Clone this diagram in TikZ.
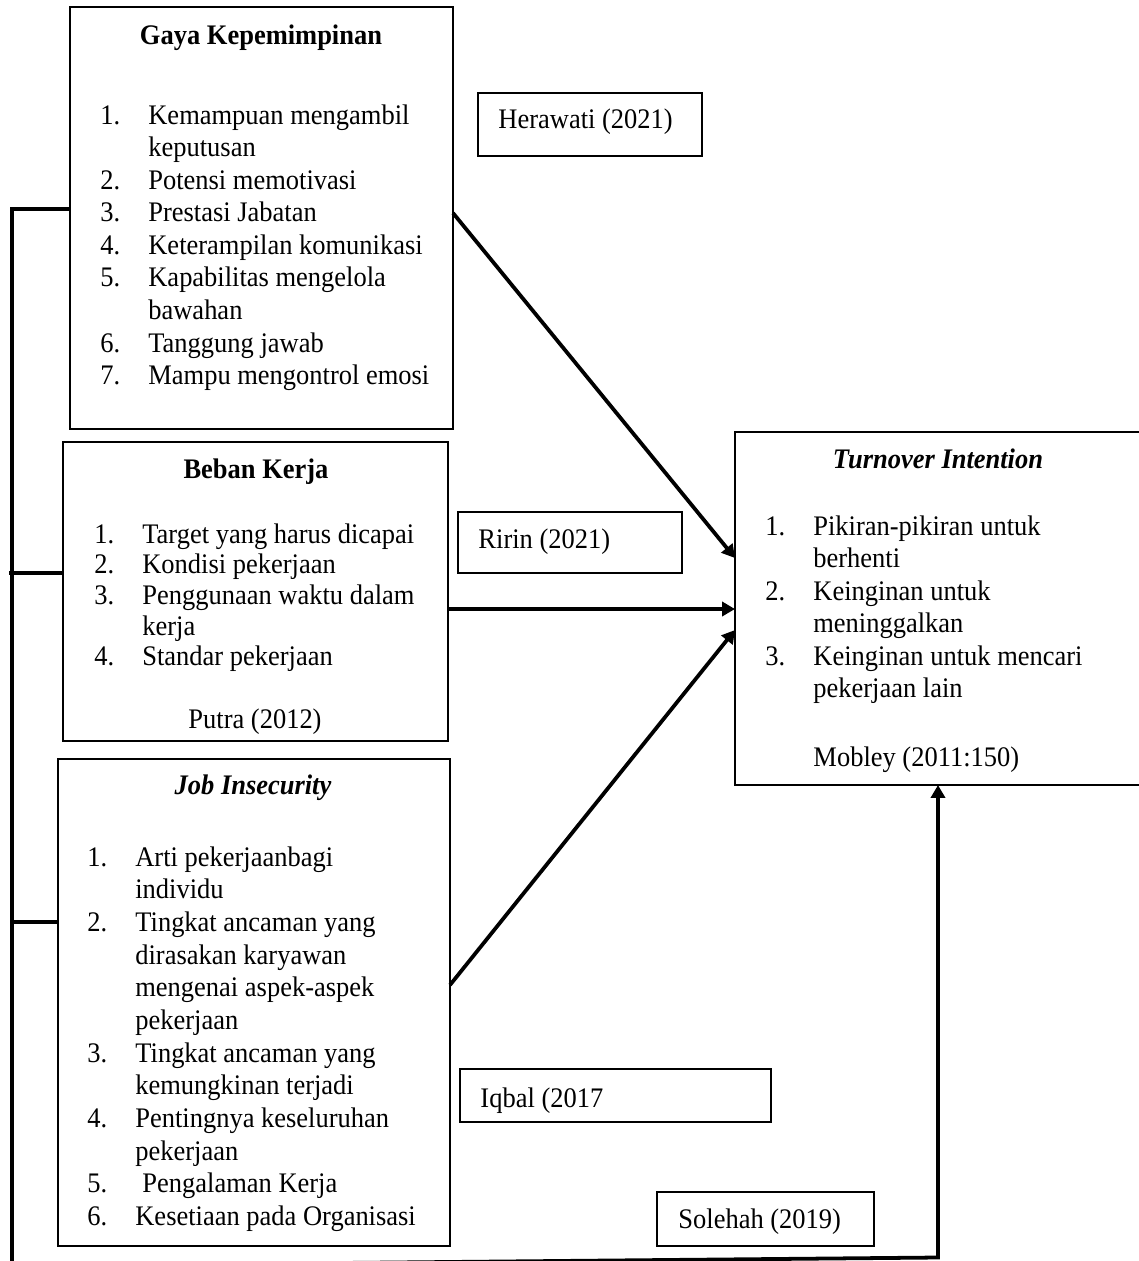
\documentclass[tikz,border=0pt]{standalone}
\usepackage{fontspec}
\setmainfont[FakeStretch=0.935]{Liberation Serif}
\usetikzlibrary{arrows.meta,calc,fit}
\newcommand{\nm}[1]{\makebox[20.3pt][l]{#1}}
\begin{document}
\begin{tikzpicture}[x=0.4237pt,y=-0.4237pt,
  mainbox/.style={draw,line width=1.1pt,inner sep=0pt,outer sep=0pt,rectangle},
  refbox/.style={draw,line width=0.5pt,inner sep=0pt,outer sep=0pt,rectangle},
  txt/.style={inner sep=0pt,anchor=base west,font=\fontsize{12pt}{13.8pt}\selectfont},
  ttl/.style={inner sep=0pt,anchor=base,font=\fontsize{12pt}{13.8pt}\selectfont\bfseries},
  wire/.style={line width=1.6pt},
  arr/.style={line width=1.6pt,-{Triangle[length=5.5pt,width=6pt]}}]
\useasboundingbox (0,0) rectangle (1139,1261);
% main boxes
\node[mainbox,fit={(70,7)(453,429)}] (gaya) {};
\node[mainbox,fit={(63,442)(448,741)}] (beban) {};
\node[mainbox,fit={(58,759)(450,1246)}] (job) {};
\node[mainbox,fit={(735,432)(1141,785)}] (turn) {};
% reference boxes
\node[refbox,fit={(478,93)(702,156)}] (hera) {};
\node[refbox,fit={(458,512)(682,573)}] (ririn) {};
\node[refbox,fit={(460,1069)(771,1122)}] (iqbal) {};
\node[refbox,fit={(657,1192)(874,1246)}] (soleh) {};
\node[txt] (heraT) at (498,128) {Herawati (2021)};
\node[txt] (ririnT) at (478,548) {Ririn (2021)};
\node[txt] (iqbalT) at (480,1107) {Iqbal (2017};
\node[txt] (solehT) at (678,1228) {Solehah (2019)};
% titles
\node[ttl] (gayaT) at (261,44) {Gaya Kepemimpinan};
\node[ttl] (bebanT) at (256,478) {Beban Kerja};
\node[ttl] (jobT) at (253,794) {\itshape Job Insecurity};
\node[ttl] (turnT) at (938,468) {\itshape Turnover Intention};
% lists
\node[txt] (gayaL) at (100,124) {\fontsize{12pt}{13.81pt}\selectfont
\begin{tabular}[t]{@{}l@{}}
\nm{1.}Kemampuan mengambil\\
\nm{}keputusan\\
\nm{2.}Potensi memotivasi\\
\nm{3.}Prestasi Jabatan\\
\nm{4.}Keterampilan komunikasi\\
\nm{5.}Kapabilitas mengelola\\
\nm{}bawahan\\
\nm{6.}Tanggung jawab\\
\nm{7.}Mampu mengontrol emosi
\end{tabular}};
\node[txt] (bebanL) at (94,543) {\fontsize{12pt}{13pt}\selectfont
\begin{tabular}[t]{@{}l@{}}
\nm{1.}Target yang harus dicapai\\
\nm{2.}Kondisi pekerjaan\\
\nm{3.}Penggunaan waktu dalam\\
\nm{}kerja\\
\nm{4.}Standar pekerjaan
\end{tabular}};
\node[ttl,font=\fontsize{12pt}{13.8pt}\selectfont] (putra) at (255,728) {Putra (2012)};
\node[txt] (jobL) at (87,866) {\fontsize{12pt}{13.85pt}\selectfont
\begin{tabular}[t]{@{}l@{}}
\nm{1.}Arti pekerjaanbagi\\
\nm{}individu\\
\nm{2.}Tingkat ancaman yang\\
\nm{}dirasakan karyawan\\
\nm{}mengenai aspek-aspek\\
\nm{}pekerjaan\\
\nm{3.}Tingkat ancaman yang\\
\nm{}kemungkinan terjadi\\
\nm{4.}Pentingnya keseluruhan\\
\nm{}pekerjaan\\
\nm{5.}\hspace{3pt}Pengalaman Kerja\\
\nm{6.}Kesetiaan pada Organisasi
\end{tabular}};
\node[txt] (turnL) at (765,535) {\fontsize{12pt}{13.8pt}\selectfont
\begin{tabular}[t]{@{}l@{}}
\nm{1.}Pikiran-pikiran untuk\\
\nm{}berhenti\\
\nm{2.}Keinginan untuk\\
\nm{}meninggalkan\\
\nm{3.}Keinginan untuk mencari\\
\nm{}pekerjaan lain
\end{tabular}};
\node[txt] (mobley) at (813,766) {Mobley (2011:150)};
% bus on the left
\coordinate (busTop) at (12,207);
\coordinate (busBot) at (12,1266);
\coordinate (bend) at (938,1257.5);
\coordinate (tickA) at (12,209);
\coordinate (tickB) at (9,573);
\coordinate (tickC) at (12,922);
\draw[wire] (busTop) -- (busBot);
\draw[wire] (tickA) -- ($(gaya.north west)+(0,202)$);
\draw[wire] (tickB) -- ($(beban.north west)+(0,131)$);
\draw[wire] (tickC) -- ($(job.north west)+(0,163)$);
% arrows
\draw[arr] ($(gaya.north east)+(0,206)$) -- ($(turn.north west)+(0,126)$);
\draw[arr] ($(beban.north east)+(0,167)$) -- ($(turn.north west)+(0,177)$);
\draw[arr] ($(job.north east)+(0,226)$) -- ($(turn.north west)+(0,198)$);
\draw[arr] (busBot) -- (bend) -- (bend |- turn.south);
\end{tikzpicture}
\end{document}
